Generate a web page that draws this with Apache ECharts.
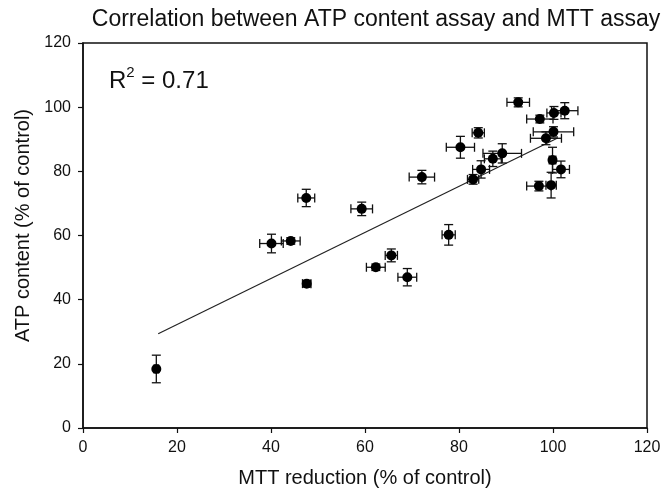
<!DOCTYPE html>
<html>
<head>
<meta charset="utf-8">
<script src="https://cdn.jsdelivr.net/npm/echarts@6/dist/echarts.min.js"></script>
<style>html,body{margin:0;padding:0;background:#fff;}#c{width:668px;height:493px;}</style>
</head>
<body>
<div id="c"></div>
<script>
// MTT reduction (% of control)
var mtt = [15.6, 40.1, 44.2, 47.5, 47.6, 59.3, 62.3, 65.6, 69.0, 72.1, 77.8, 80.3, 83.0, 84.1, 84.7, 87.2, 89.2, 92.6, 97.2, 100.2, 102.5, 100.1, 98.5, 99.9, 101.7, 97.0, 99.6];
// ATP content (% of control)
var atp = [18.4, 57.5, 58.3, 71.7, 45.0, 68.3, 50.1, 53.8, 47.0, 78.2, 60.2, 87.5, 77.5, 92.0, 80.6, 83.9, 85.6, 101.5, 96.3, 98.2, 98.9, 92.3, 90.3, 83.5, 80.6, 75.4, 75.7];
// error (half-width) in MTT
var mttErr = [0.5, 2.5, 2.0, 1.8, 0.9, 2.3, 2.0, 1.3, 2.0, 2.7, 1.4, 3.0, 1.2, 1.3, 1.8, 1.8, 4.1, 2.4, 2.8, 1.5, 2.8, 4.3, 3.3, 0.7, 1.8, 2.6, 1.1];
// error (half-width) in ATP
var atpErr = [4.3, 2.9, 1.0, 2.7, 1.0, 2.1, 1.0, 2.0, 2.7, 2.1, 3.2, 3.4, 1.5, 1.6, 2.7, 2.4, 3.0, 1.4, 1.2, 2.0, 2.5, 1.6, 2.0, 4.0, 2.6, 1.5, 4.0];
// regression line endpoints
var fitX = [16, 101];
var fitY = [29.4, 90.4];
var axisTicks = [0, 20, 40, 60, 80, 100, 120];

var pts = mtt.map(function (x, i) { return [x, atp[i]]; });
var errData = mtt.map(function (x, i) { return [x, atp[i], mttErr[i], atpErr[i]]; });
var fitData = fitX.map(function (x, i) { return [x, fitY[i]]; });

var chart = echarts.init(document.getElementById('c'));
var FONT = 'Liberation Sans, Arial, sans-serif';
var axisCommon = {
  min: axisTicks[0], max: axisTicks[axisTicks.length - 1], interval: 20,
  axisLine: { show: true, lineStyle: { color: '#111', width: 1.5 } },
  axisTick: { show: true, inside: false, length: 5, lineStyle: { color: '#111', width: 1.2 } },
  splitLine: { show: false },
  axisLabel: { color: '#111', fontSize: 16, fontFamily: FONT },
  nameTextStyle: { color: '#111', fontSize: 20, fontFamily: FONT }
};
chart.setOption({
  animation: false,
  backgroundColor: '#fff',
  title: [{
    text: 'Correlation between ATP content assay and MTT assay',
    left: 371, top: 3, textAlign: 'center',
    textStyle: { color: '#111', fontSize: 23, fontWeight: 'normal', fontFamily: FONT }
  }, {
    text: '{a|R}{s|2}{a| = 0.71}',
    left: 104, top: 60,
    textStyle: {
      fontWeight: 'normal',
      rich: {
        a: { fontSize: 24, fontWeight: 'normal', color: '#111', fontFamily: FONT, verticalAlign: 'bottom', lineHeight: 28 },
        s: { fontSize: 15, fontWeight: 'normal', color: '#111', fontFamily: FONT, verticalAlign: 'top', lineHeight: 28, padding: [0, 0, 12, 0] }
      }
    }
  }],
  grid: { left: 83, right: 21, top: 43, bottom: 63, show: true, borderColor: '#111', borderWidth: 1.5, backgroundColor: 'transparent' },
  xAxis: Object.assign({}, axisCommon, {
    type: 'value', name: 'MTT reduction (% of control)', nameLocation: 'middle', nameGap: 40,
    axisLabel: Object.assign({}, axisCommon.axisLabel, { margin: 12 })
  }),
  yAxis: Object.assign({}, axisCommon, {
    type: 'value', name: 'ATP content (% of control)', nameLocation: 'middle', nameGap: 47,
    axisLabel: Object.assign({}, axisCommon.axisLabel, { margin: 12 }),
    nameTextStyle: Object.assign({}, axisCommon.nameTextStyle, { padding: [0, 0, 0, 20] })
  }),
  series: [{
    type: 'line', data: fitData, showSymbol: false, symbol: 'none',
    lineStyle: { color: '#222', width: 1.2 }, z: 2
  }, {
    type: 'custom', data: errData, encode: { x: 0, y: 1 }, z: 3,
    renderItem: function (params, api) {
      var x = api.value(0), y = api.value(1), ex = api.value(2), ey = api.value(3);
      var c = api.coord([x, y]);
      var l = api.coord([x - ex, y]), r = api.coord([x + ex, y]);
      var t = api.coord([x, y + ey]), b = api.coord([x, y - ey]);
      var cap = 4.5;
      var st = { stroke: '#111', lineWidth: 1.3 };
      function ln(x1, y1, x2, y2) { return { type: 'line', shape: { x1: x1, y1: y1, x2: x2, y2: y2 }, style: st }; }
      return { type: 'group', children: [
        ln(l[0], c[1], r[0], c[1]),
        ln(l[0], c[1] - cap, l[0], c[1] + cap),
        ln(r[0], c[1] - cap, r[0], c[1] + cap),
        ln(c[0], t[1], c[0], b[1]),
        ln(c[0] - cap, t[1], c[0] + cap, t[1]),
        ln(c[0] - cap, b[1], c[0] + cap, b[1])
      ] };
    }
  }, {
    type: 'scatter', data: pts, symbol: 'circle', symbolSize: 10, z: 4,
    itemStyle: { color: '#000', opacity: 1 }
  }]
});
</script>
</body>
</html>
